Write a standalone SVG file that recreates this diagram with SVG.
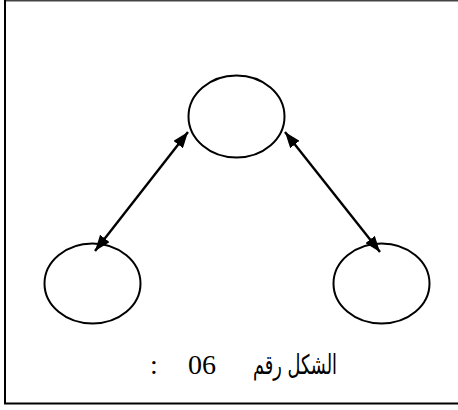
<svg xmlns="http://www.w3.org/2000/svg" width="458" height="410" viewBox="0 0 458 410">
<style>
.node{fill:none;stroke:#000;stroke-width:2}
.edge{stroke:#000;stroke-width:2.4;fill:none}
.ar{font-family:"DejaVu Sans",sans-serif;font-size:27px;fill:#000}
.num{font-family:"Liberation Serif",serif;font-size:28px;fill:#000}
</style>
<defs>
<marker id="ah" viewBox="0 0 16 12" refX="16" refY="6" markerWidth="16" markerHeight="12" markerUnits="userSpaceOnUse" orient="auto-start-reverse">
<path d="M0,0 L16,6 L0,12 z" fill="#000"/>
</marker>
</defs>
<rect width="458" height="410" fill="#fff"/>
<g id="frame" fill="none">
<line x1="5" y1="0.8" x2="458" y2="0.8" stroke="#444" stroke-width="1.5"/>
<line x1="5" y1="0" x2="5" y2="404" stroke="#000" stroke-width="2"/>
<line x1="4" y1="403.5" x2="458" y2="403.5" stroke="#000" stroke-width="1.8"/>
</g>
<g id="n_top"><ellipse class="node" cx="236.5" cy="116.5" rx="48" ry="41"/></g>
<g id="n_left"><ellipse class="node" cx="92.5" cy="283.5" rx="48" ry="40"/></g>
<g id="n_right"><ellipse class="node" cx="381.5" cy="283.5" rx="48" ry="40"/></g>
<g id="connectors">
<line class="edge" x1="95" y1="251" x2="188" y2="132" marker-start="url(#ah)" marker-end="url(#ah)"/>
<line class="edge" x1="285" y1="132" x2="380" y2="252" marker-start="url(#ah)" marker-end="url(#ah)"/>
</g>
<g id="caption">
<text class="ar" x="253" y="374" textLength="84" lengthAdjust="spacingAndGlyphs">الشكل رقم</text>
<text class="num" x="188" y="374">06</text>
<text class="num" x="150" y="374">:</text>
</g>
</svg>
